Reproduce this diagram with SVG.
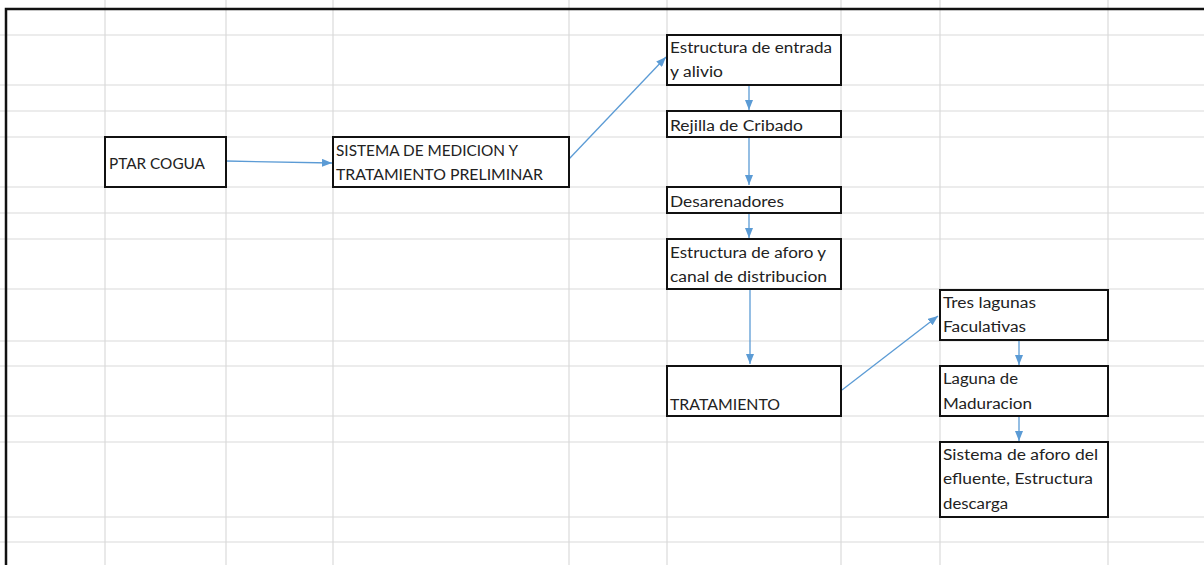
<svg xmlns="http://www.w3.org/2000/svg" width="1204" height="565" viewBox="0 0 1204 565">
<defs>
<style>
.grid line{stroke:#dadada;stroke-width:1.2}
.box{fill:#fff;stroke:#111;stroke-width:2}
.t{font-family:Lato,"Open Sans","Liberation Sans",sans-serif;font-size:15.5px;fill:#222}
.c{stroke:#5b9bd5;stroke-width:1.3;fill:none;marker-end:url(#ah)}
</style>
<marker id="ah" markerWidth="10" markerHeight="8" refX="10" refY="4" orient="auto" markerUnits="userSpaceOnUse"><path d="M0,0 L10,4 L0,8 z" fill="#5b9bd5"/></marker>
</defs>
<rect width="1204" height="565" fill="#fff"/>
<g class="grid">
<line x1="0" y1="35" x2="1204" y2="35"/>
<line x1="0" y1="85" x2="1204" y2="85"/>
<line x1="0" y1="111" x2="1204" y2="111"/>
<line x1="0" y1="137" x2="1204" y2="137"/>
<line x1="0" y1="187" x2="1204" y2="187"/>
<line x1="0" y1="213" x2="1204" y2="213"/>
<line x1="0" y1="239" x2="1204" y2="239"/>
<line x1="0" y1="289" x2="1204" y2="289"/>
<line x1="0" y1="341" x2="1204" y2="341"/>
<line x1="0" y1="366" x2="1204" y2="366"/>
<line x1="0" y1="416" x2="1204" y2="416"/>
<line x1="0" y1="442" x2="1204" y2="442"/>
<line x1="0" y1="517" x2="1204" y2="517"/>
<line x1="0" y1="542" x2="1204" y2="542"/>
<line x1="105" y1="0" x2="105" y2="565"/>
<line x1="226" y1="0" x2="226" y2="565"/>
<line x1="333" y1="0" x2="333" y2="565"/>
<line x1="569" y1="0" x2="569" y2="565"/>
<line x1="667" y1="0" x2="667" y2="565"/>
<line x1="841" y1="0" x2="841" y2="565"/>
<line x1="940" y1="0" x2="940" y2="565"/>
<line x1="1108" y1="0" x2="1108" y2="565"/>
</g>
<path d="M6,565 L6,9 L1204,9" fill="none" stroke="#111" stroke-width="2.5"/>
<g id="connectors">
<path class="c" d="M226,161 L332,163"/>
<path class="c" d="M569,159 L666,57"/>
<path class="c" d="M749,85 L749,110"/>
<path class="c" d="M749,137 L749,185"/>
<path class="c" d="M749,213 L749,238"/>
<path class="c" d="M750,289 L750,364"/>
<path class="c" d="M842,390 L938,316"/>
<path class="c" d="M1019,340 L1019,365"/>
<path class="c" d="M1019,416 L1019,441"/>
</g>
<g id="ptar">
<rect class="box" x="105" y="137" width="121" height="50"/>
<text class="t" x="109" y="169" textLength="96" lengthAdjust="spacingAndGlyphs">PTAR COGUA</text>
</g>
<g id="sistema-medicion">
<rect class="box" x="333" y="137" width="236" height="50"/>
<text class="t" x="336" y="156" textLength="182" lengthAdjust="spacingAndGlyphs">SISTEMA DE MEDICION Y</text>
<text class="t" x="336" y="180" textLength="207" lengthAdjust="spacingAndGlyphs">TRATAMIENTO PRELIMINAR</text>
</g>
<g id="estructura-entrada">
<rect class="box" x="667" y="35" width="174" height="50"/>
<text class="t" x="670" y="53" textLength="162" lengthAdjust="spacingAndGlyphs">Estructura de entrada</text>
<text class="t" x="670" y="77" textLength="53" lengthAdjust="spacingAndGlyphs">y alivio</text>
</g>
<g id="rejilla">
<rect class="box" x="667" y="111" width="174" height="26"/>
<text class="t" x="670" y="131" textLength="133" lengthAdjust="spacingAndGlyphs">Rejilla de Cribado</text>
</g>
<g id="desarenadores">
<rect class="box" x="667" y="187" width="174" height="26"/>
<text class="t" x="670" y="207" textLength="114" lengthAdjust="spacingAndGlyphs">Desarenadores</text>
</g>
<g id="estructura-aforo">
<rect class="box" x="667" y="239" width="174" height="50"/>
<text class="t" x="670" y="258" textLength="156" lengthAdjust="spacingAndGlyphs">Estructura de aforo y</text>
<text class="t" x="670" y="282" textLength="157" lengthAdjust="spacingAndGlyphs">canal de distribucion</text>
</g>
<g id="tratamiento">
<rect class="box" x="667" y="366" width="174" height="50"/>
<text class="t" x="670" y="410" textLength="110" lengthAdjust="spacingAndGlyphs">TRATAMIENTO</text>
</g>
<g id="lagunas-facultativas">
<rect class="box" x="940" y="290" width="168" height="50"/>
<text class="t" x="943" y="308" textLength="93" lengthAdjust="spacingAndGlyphs">Tres lagunas</text>
<text class="t" x="943" y="332" textLength="83" lengthAdjust="spacingAndGlyphs">Faculativas</text>
</g>
<g id="laguna-maduracion">
<rect class="box" x="940" y="366" width="168" height="50"/>
<text class="t" x="943" y="384" textLength="75" lengthAdjust="spacingAndGlyphs">Laguna de</text>
<text class="t" x="943" y="409" textLength="89" lengthAdjust="spacingAndGlyphs">Maduracion</text>
</g>
<g id="sistema-aforo">
<rect class="box" x="940" y="442" width="168" height="75"/>
<text class="t" x="943" y="460" textLength="155" lengthAdjust="spacingAndGlyphs">Sistema de aforo del</text>
<text class="t" x="943" y="484" textLength="150" lengthAdjust="spacingAndGlyphs">efluente, Estructura</text>
<text class="t" x="943" y="509" textLength="65" lengthAdjust="spacingAndGlyphs">descarga</text>
</g>
</svg>
